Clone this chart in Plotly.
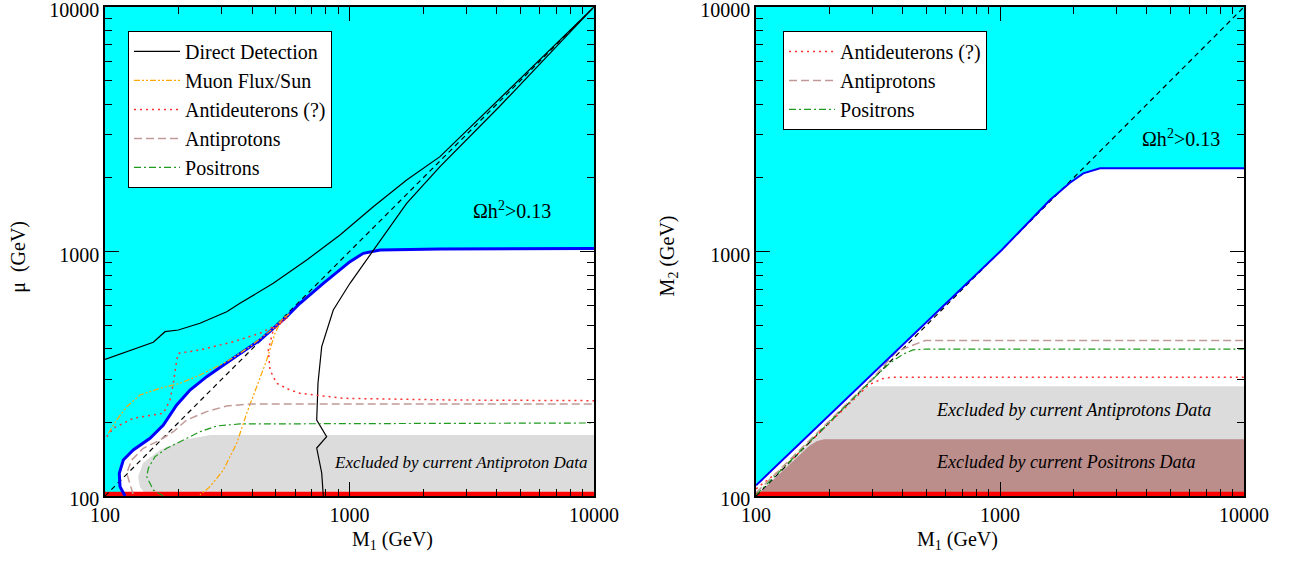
import plotly.graph_objects as go

# ---------------- data (left panel: mu vs M1) ----------------
relic_m1 = [120.7, 115.2, 114.4, 118.8, 130.5, 152.8, 173.2, 184.5, 196.5, 222.7, 260.6, 334.7, 430.5,
            553.4, 627.4, 781.4, 1004.7, 1138.8, 1332.6, 2345, 10000]
relic_mu = [100, 109.2, 123.8, 140.4, 154.2, 172.2, 195.2, 214.5, 235.6, 271.4, 307.6, 365.7, 434.5,
            541.2, 614, 741.3, 908.5, 983.1, 1014.1, 1023.8, 1028.7]

dd_m1 = [100, 157.6, 176, 199.5, 244.6, 314.7, 356.6, 487.9, 668.3, 914.5, 1251, 1713, 2345, 4126, 10000,
         4126, 2345, 1713, 1251, 1004.7, 858.5, 769.8, 743.4, 734.4, 806.5, 734.4, 769.8, 781.5]
dd_mu = [362.3, 425.2, 469.9, 477.4, 508.5, 567.1, 614, 741.3, 923, 1168, 1525, 1961, 2443, 4244, 10000,
         3937, 2223, 1574, 1014, 741.3, 576.4, 408, 289.9, 204.6, 174.8, 157.1, 124.2, 100]

muon_m1 = [103.2, 111.7, 122.7, 139, 167.9, 202.7, 244.6, 314.7, 391.7, 487.9, 544.8, 571,
           528.1, 495.9, 458.5, 417.4, 379.9, 345.7, 304.8, 268.8, 244.6]
muon_mu = [180.5, 204.6, 231.9, 258.8, 275.7, 289, 312.6, 354.2, 408, 485.1, 541.2, 558.8,
           524.7, 462.9, 359.9, 279.9, 217.9, 164.3, 127.7, 109.2, 101]

dbar_m1 = [101.6, 108.1, 130.5, 173.2, 184.5, 190.3, 196.5, 199.5, 244.6, 334.7, 430.5, 519.6, 560.4,
           487.9, 465.5, 473, 503.9, 571, 627.4, 943.3, 2576, 10000]
dbar_mu = [174.8, 189.2, 207.9, 217.9, 247, 289, 359.9, 383.4, 395.5, 427.6, 462.9, 508.5, 539.7,
           477.4, 395.5, 327.6, 289, 271.4, 263, 250.9, 247, 245.4]

pbar_m1 = [130.2, 126.5, 122.7, 128.6, 143.4, 167.9, 190.3, 215.9, 260.6, 314.7, 391.7, 10000]
pbar_mu = [101.9, 110.9, 123.8, 140.4, 156.7, 169.4, 183.2, 204.6, 221.3, 233.4, 237.9, 237.9]

pos_m1 = [173.2, 157.6, 148.1, 150.4, 160.1, 178.8, 202.7, 244.6, 286.3, 356.6, 10000]
pos_mu = [100, 105.8, 119.9, 129.8, 144.8, 156.7, 166.8, 183.2, 193.4, 197.1, 198.9]

pbar_excl_m1 = [148.5, 139, 136.5, 143, 167.9, 208.4, 268.8, 10000, 10000]
pbar_excl_mu = [100, 108.8, 119.6, 136.4, 154.2, 169.4, 177.7, 177.7, 100]

# ---------------- data (right panel: M2 vs M1) ----------------
relic2_m1 = [100, 623.7, 1016, 1602, 1936, 2194, 2570, 10000]
relic2_m2 = [110.5, 633.3, 1014, 1624, 1911, 2088, 2189, 2189]

dbar2_m1 = [100, 130, 200, 290, 330, 360, 10000]
dbar2_m2 = [107, 131, 199, 285, 302, 306, 306]

pbar2_m1 = [100, 200, 300, 377, 441, 493, 10000]
pbar2_m2 = [103, 204, 302, 390, 416, 432.5, 432.5]

pos2_m1 = [100, 200, 300, 354, 400, 440, 500, 10000]
pos2_m2 = [101, 201, 300, 350, 380, 396, 399, 399]

pbar2_excl_m1 = [100, 265, 285, 300, 10000, 10000]
pbar2_excl_m2 = [100, 265, 278, 281, 281, 100]

pos2_excl_m1 = [100, 165, 178, 190, 10000, 10000]
pos2_excl_m2 = [100, 160, 168, 170.6, 170.6, 100]

diag = [100, 10000]
lep_limit = 104

# ---------------- styles ----------------
FONT = "Liberation Serif, Times New Roman, serif"
CYAN = "#00FFFF"
GREY = "#DCDCDC"
ROSE = "#BB8D8B"
ORANGE = "#FFA500"
RED = "#FF3030"
PBAR = "#C09A98"
GREEN = "#1E9A1E"

fig = go.Figure()

def add(tr, panel):
    if panel == 2:
        tr.update(xaxis="x2", yaxis="y2")
    fig.add_trace(tr)

# ---- left panel ----
add(go.Scatter(x=[100] + relic_m1 + [10000, 100], y=[100] + relic_mu + [10000, 10000],
               fill="toself", fillcolor=CYAN, line=dict(width=0), mode="lines",
               showlegend=False, hoverinfo="skip"), 1)
add(go.Scatter(x=pbar_excl_m1, y=pbar_excl_mu, fill="toself", fillcolor=GREY,
               line=dict(width=0), mode="lines", showlegend=False, hoverinfo="skip"), 1)
add(go.Scatter(x=[100, 10000, 10000, 100], y=[100, 100, lep_limit, lep_limit], fill="toself",
               fillcolor="#FF0000", line=dict(width=0), mode="lines", showlegend=False,
               hoverinfo="skip"), 1)
add(go.Scatter(x=diag, y=diag, mode="lines", line=dict(color="black", width=1.2, dash="5px,4px"),
               showlegend=False), 1)
add(go.Scatter(x=relic_m1, y=relic_mu, mode="lines", line=dict(color="#0000FF", width=3),
               showlegend=False), 1)
add(go.Scatter(x=dd_m1, y=dd_mu, mode="lines", name="Direct Detection",
               line=dict(color="black", width=1.2), legend="legend"), 1)
add(go.Scatter(x=muon_m1, y=muon_mu, mode="lines", name="Muon Flux/Sun",
               line=dict(color=ORANGE, width=1.2, dash="6px,2px,2px,2px,2px,2px"), legend="legend"), 1)
add(go.Scatter(x=dbar_m1, y=dbar_mu, mode="lines", name="Antideuterons (?)",
               line=dict(color=RED, width=1.5, dash="2px,4px"), legend="legend"), 1)
add(go.Scatter(x=pbar_m1, y=pbar_mu, mode="lines", name="Antiprotons",
               line=dict(color=PBAR, width=1.5, dash="8px,4px"), legend="legend"), 1)
add(go.Scatter(x=pos_m1, y=pos_mu, mode="lines", name="Positrons",
               line=dict(color=GREEN, width=1.2, dash="7px,3px,2px,3px"), legend="legend"), 1)

# ---- right panel ----
add(go.Scatter(x=[100] + relic2_m1 + [10000, 100], y=[100] + relic2_m2 + [10000, 10000],
               fill="toself", fillcolor=CYAN, line=dict(width=0), mode="lines",
               showlegend=False, hoverinfo="skip"), 2)
add(go.Scatter(x=pbar2_excl_m1, y=pbar2_excl_m2, fill="toself", fillcolor=GREY,
               line=dict(width=0), mode="lines", showlegend=False, hoverinfo="skip"), 2)
add(go.Scatter(x=pos2_excl_m1, y=pos2_excl_m2, fill="toself", fillcolor=ROSE,
               line=dict(width=0), mode="lines", showlegend=False, hoverinfo="skip"), 2)
add(go.Scatter(x=[100, 10000, 10000, 100], y=[100, 100, lep_limit, lep_limit], fill="toself",
               fillcolor="#FF0000", line=dict(width=0), mode="lines", showlegend=False,
               hoverinfo="skip"), 2)
add(go.Scatter(x=diag, y=diag, mode="lines", line=dict(color="black", width=1.2, dash="5px,4px"),
               showlegend=False), 2)
add(go.Scatter(x=dbar2_m1, y=dbar2_m2, mode="lines", name="Antideuterons (?)",
               line=dict(color=RED, width=1.5, dash="2px,4px"), legend="legend2"), 2)
add(go.Scatter(x=pbar2_m1, y=pbar2_m2, mode="lines", name="Antiprotons",
               line=dict(color=PBAR, width=1.5, dash="8px,4px"), legend="legend2"), 2)
add(go.Scatter(x=pos2_m1, y=pos2_m2, mode="lines", name="Positrons",
               line=dict(color=GREEN, width=1.2, dash="7px,3px,2px,3px"), legend="legend2"), 2)
add(go.Scatter(x=relic2_m1, y=relic2_m2, mode="lines", line=dict(color="#0000FF", width=2),
               showlegend=False), 2)

major = [100, 1000, 10000]
minor = [v * m for m in (100, 1000) for v in range(2, 10)]

def axis(domain, anchor, shift=0):
    return dict(type="log", range=[2, 4], domain=domain, anchor=anchor,
                tickvals=major, ticktext=[str(v) for v in major],
                ticks="inside", ticklen=14, tickwidth=1.2, tickcolor="black",
                minor=dict(ticks="inside", ticklen=7, tickwidth=1.2, tickcolor="black",
                           tickvals=minor, showgrid=False),
                showline=True, linecolor="black", linewidth=1.5, mirror="allticks",
                showgrid=False, zeroline=False, automargin=False,
                ticklabeloverflow="allow", ticklabelshift=shift,
                tickfont=dict(family=FONT, size=20, color="black"))

fig.update_layout(
    width=1293, height=561,
    margin=dict(l=105, r=49, t=7, b=65, autoexpand=False),
    paper_bgcolor="white", plot_bgcolor="white",
    font=dict(family=FONT, size=20, color="black"),
    xaxis=axis([0, 0.4293], "y"),
    yaxis=axis([0, 1], "x", 3),
    xaxis2=axis([0.5716, 1], "y2"),
    yaxis2=axis([0, 1], "x2", 3),
    legend=dict(x=0.0202, y=0.951, xanchor="left", yanchor="top", bgcolor="white",
                bordercolor="black", borderwidth=1, font=dict(family=FONT, size=20),
                tracegroupgap=0, itemwidth=46),
    legend2=dict(x=0.5953, y=0.951, xanchor="left", yanchor="top", bgcolor="white",
                 bordercolor="black", borderwidth=1, font=dict(family=FONT, size=20),
                 tracegroupgap=0, itemwidth=46),
    showlegend=True,
)

ann = [
    dict(xref="x", yref="y", x=3.6646, y=3.17, text="Ωh<sup>2</sup>&gt;0.13"),
    dict(xref="x2", yref="y2", x=3.742, y=3.464, text="Ωh<sup>2</sup>&gt;0.13"),
    dict(xref="x", yref="y", x=3.455, y=2.135, text="<i>Excluded by current Antiproton Data</i>",
         font=dict(family=FONT, size=17, color="black")),
    dict(xref="x2", yref="y2", x=3.303, y=2.352, text="<i>Excluded by current Antiprotons Data</i>",
         font=dict(family=FONT, size=18, color="black")),
    dict(xref="x2", yref="y2", x=3.27, y=2.14, text="<i>Excluded by current Positrons Data</i>",
         font=dict(family=FONT, size=18, color="black")),
    # axis titles
    dict(xref="paper", yref="paper", x=0.2147, y=-0.09, yanchor="middle",
         text="M<sub>1</sub> (GeV)"),
    dict(xref="paper", yref="paper", x=0.7858, y=-0.09, yanchor="middle",
         text="M<sub>1</sub> (GeV)"),
    dict(xref="paper", yref="paper", x=-0.076, y=0.49, textangle=-90, xanchor="center",
         text="μ  (GeV)"),
    dict(xref="paper", yref="paper", x=0.4943, y=0.49, textangle=-90, xanchor="center",
         text="M<sub>2</sub> (GeV)"),
]
for a in ann:
    a.setdefault("font", dict(family=FONT, size=20, color="black"))
    a["showarrow"] = False
    fig.add_annotation(**a)

fig.write_html("out.html", config={"displayModeBar": False},
               post_script="document.body.style.margin='0px';")
